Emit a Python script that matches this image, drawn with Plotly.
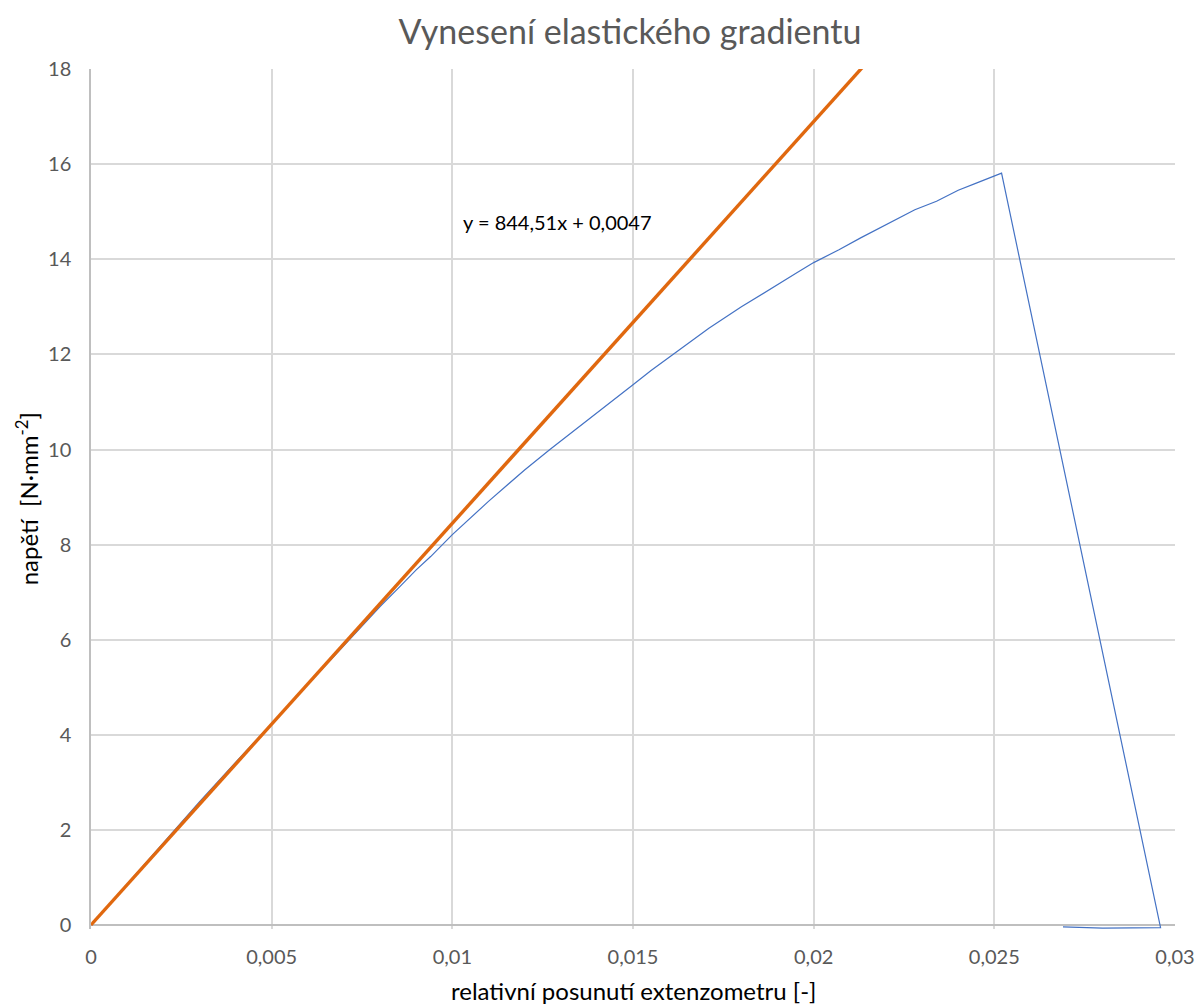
import plotly.graph_objects as go

# Measured stress-strain curve (extensometer strain vs. stress)
strain = [0, 0.001, 0.002, 0.003, 0.004, 0.005, 0.006, 0.007, 0.0075, 0.008,
          0.0085, 0.009, 0.0094, 0.010, 0.011, 0.012, 0.0127, 0.0135, 0.014,
          0.0147, 0.0150, 0.0155, 0.0161, 0.0171, 0.0180, 0.0188, 0.0195, 0.0200,
          0.0207, 0.0213, 0.0221, 0.0228, 0.0234, 0.0240, 0.0245, 0.0252,
          0.0296, 0.0293, 0.0280, 0.0269]
stress = [0, 0.87, 1.73, 2.59, 3.42, 4.24, 5.07, 5.90, 6.30, 6.70,
          7.08, 7.47, 7.75, 8.21, 8.91, 9.57, 10.0, 10.47, 10.77,
          11.17, 11.36, 11.66, 12.0, 12.55, 13.0, 13.38, 13.70, 13.93,
          14.20, 14.45, 14.76, 15.04, 15.22, 15.45, 15.60, 15.81,
          -0.05, -0.05, -0.06, -0.035]

# Linear elastic fit
slope = 844.51
intercept = 0.0047
fit_x = [0, max(strain)]
fit_y = [slope * v + intercept for v in fit_x]

x_ticks = [0, 0.005, 0.01, 0.015, 0.02, 0.025, 0.03]
y_ticks = [0, 2, 4, 6, 8, 10, 12, 14, 16, 18]

font_family = "Lato, Carlito, sans-serif"

fig = go.Figure()
fig.add_trace(go.Scatter(x=strain, y=stress, mode="lines",
                         line=dict(color="#4472C4", width=1.2),
                         showlegend=False))
fig.add_trace(go.Scatter(x=fit_x, y=fit_y, mode="lines",
                         line=dict(color="#E0680F", width=3.4),
                         showlegend=False))

# Trendline equation
fig.add_annotation(x=0.0129, y=14.79, xref="x", yref="y",
                   text="y = 844,51x + 0,0047", showarrow=False,
                   font=dict(family=font_family, size=20, color="#000000"))

# Axis titles
fig.add_annotation(x=0.5, y=-0.071, xref="paper", yref="paper",
                   xanchor="center", yanchor="middle",
                   text="relativní posunutí extenzometru [-]", showarrow=False,
                   font=dict(family=font_family, size=24, color="#000000"))
fig.add_annotation(x=-0.0587, y=0.5, xref="paper", yref="paper",
                   xanchor="center", yanchor="middle", textangle=-90,
                   text="napětí  [N·mm<sup>-2</sup>]", showarrow=False,
                   font=dict(family=font_family, size=24, color="#000000"))

fig.update_layout(
    width=1200, height=1006,
    margin=dict(l=91, r=25, t=69, b=77, autoexpand=False),
    paper_bgcolor="white", plot_bgcolor="white",
    separators=", ",
    title=dict(text="Vynesení elastického gradientu", x=0.525, xanchor="center",
               y=0.968, yanchor="middle",
               font=dict(family=font_family, size=34, color="#595959")),
    xaxis=dict(range=[0, 0.03], tickvals=x_ticks, showgrid=True, automargin=False,
               gridcolor="#D9D9D9", gridwidth=1.5, zeroline=False,
               showline=False, ticks="", ticklabelstandoff=14,
               tickfont=dict(family=font_family, size=20, color="#595959")),
    yaxis=dict(range=[-0.08, 18], tickvals=y_ticks, showgrid=True, automargin=False,
               gridcolor="#D9D9D9", gridwidth=1.5,
               zeroline=True, zerolinecolor="#BFBFBF", zerolinewidth=1.5,
               showline=True, linecolor="#BFBFBF", linewidth=1.5,
               ticks="", ticklabelstandoff=14,
               tickfont=dict(family=font_family, size=20, color="#595959")),
)

fig.write_html("out.html")
